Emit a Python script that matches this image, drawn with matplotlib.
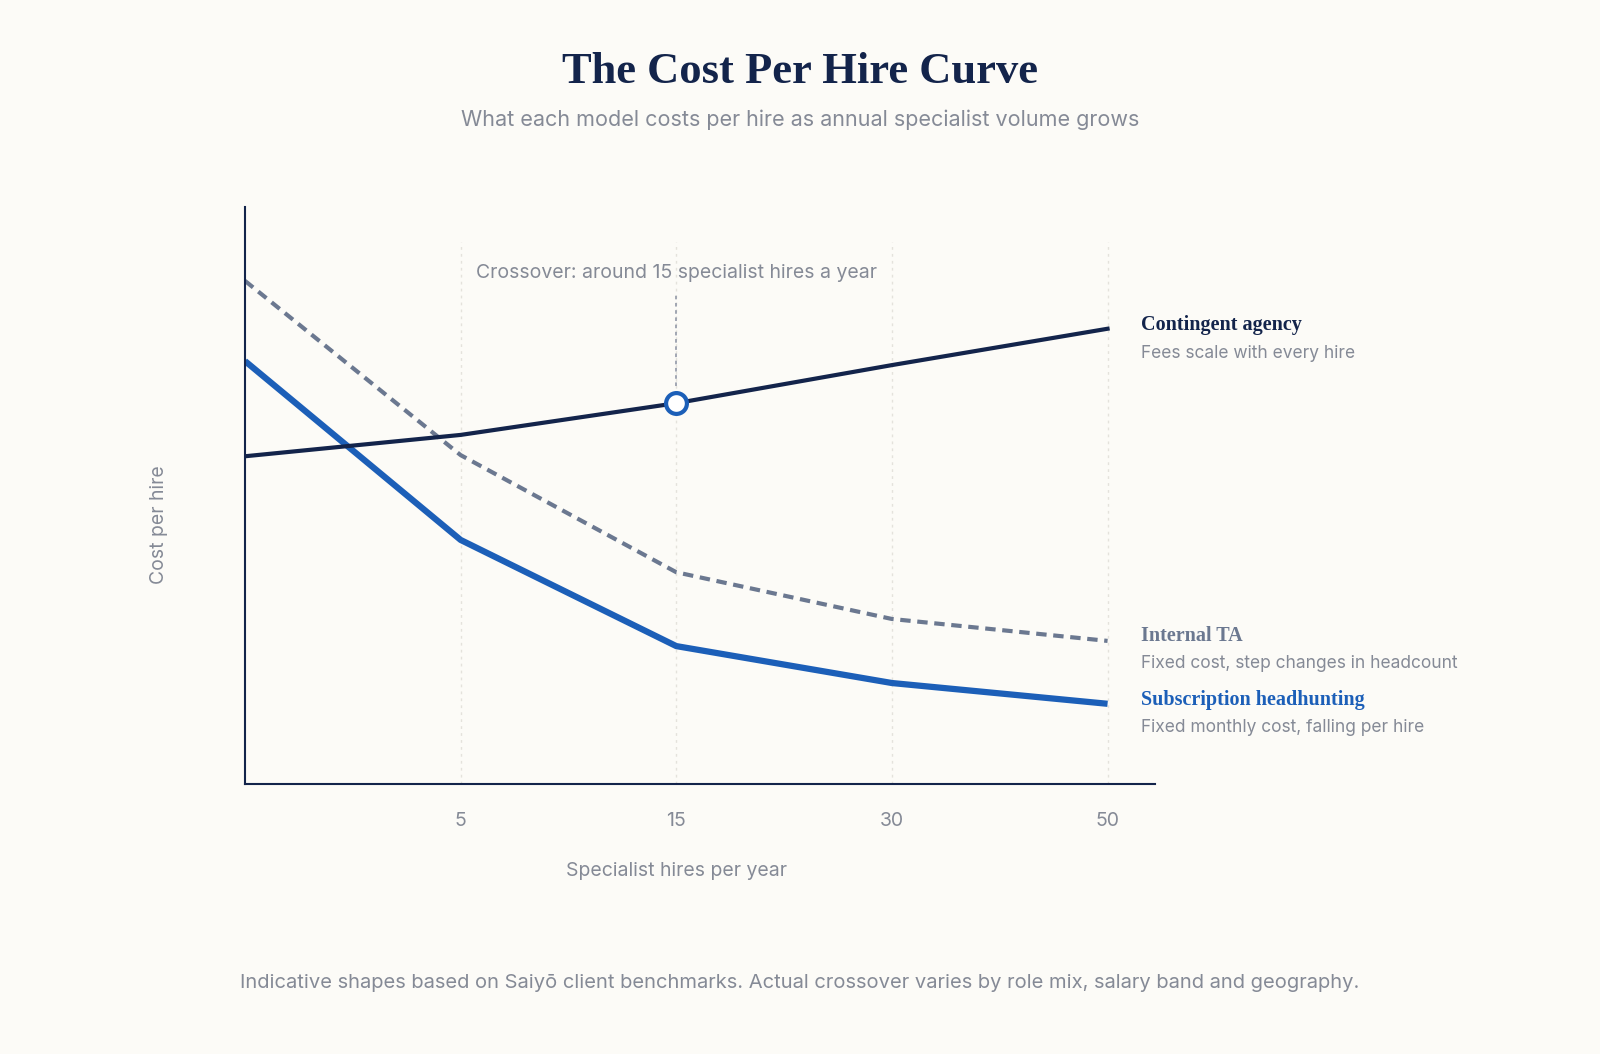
import matplotlib
matplotlib.use("Agg")
import matplotlib.pyplot as plt

x_labels = ["", "5", "15", "30", "50"]
contingent = [56.8, 60.5, 66.0, 72.6, 78.9]
internal_ta = [87.2, 57.0, 36.7, 28.6, 24.8]
subscription = [73.3, 42.3, 23.9, 17.5, 13.9]
crossover_idx = 2

BG = "#fcfbf7"; NAVY = "#13244b"; BLUE = "#1c5fb8"; GREY = "#6b7890"; TXT = "#858a96"
W, H = 1600, 1054
fig = plt.figure(figsize=(16, 10.54), dpi=100, facecolor=BG)
ax = fig.add_axes([245/W, 1-784/H, 910/W, 577/H], facecolor=BG)
xs = list(range(len(x_labels)))
ax.set_xlim(0, 4.22); ax.set_ylim(0, 100)
for i in xs[1:]:
    ax.axvline(i, ymin=0, ymax=0.94, color="#e4e2dc", lw=1, ls=(0, (2, 3)), zorder=0)
ax.plot(xs, subscription, color=BLUE, lw=4.5, solid_capstyle="butt")
ax.plot(xs, internal_ta, color=GREY, lw=3, ls=(0, (2.5, 1.6)))
ax.plot(xs, contingent, color=NAVY, lw=3)
ax.plot([crossover_idx, crossover_idx], [contingent[crossover_idx]+3, 85], color="#9aa0ad", lw=1.3, ls=(0, (2, 2)))
ax.plot(crossover_idx, contingent[crossover_idx], "o", ms=15, mfc="white", mec=BLUE, mew=3, zorder=5)
ax.text(crossover_idx, 88.5, "Crossover: around 15 specialist hires a year", ha="center", va="center", color=TXT, fontsize=14, family="Inter")
for s in ["top", "right"]:
    ax.spines[s].set_visible(False)
for s in ["left", "bottom"]:
    ax.spines[s].set_color(NAVY); ax.spines[s].set_linewidth(1.5)
ax.set_xticks(xs); ax.set_xticklabels(x_labels, fontsize=14, color=TXT, family="Inter")
ax.tick_params(axis="x", length=0, pad=20)
ax.set_yticks([])
ax.set_xlabel("Specialist hires per year", fontsize=14, color=TXT, family="Inter")
ax.xaxis.set_label_coords(2/4.22, -0.135)
ax.set_ylabel("Cost per hire", fontsize=14, color=TXT, family="Inter")
ax.yaxis.set_label_coords(-0.085, 0.45)

def ft(px, py, s, **kw):
    fig.text(px/W, 1-py/H, s, **kw)
ft(800, 72, "The Cost Per Hire Curve", ha="center", va="center", fontsize=32, fontweight="bold", color=NAVY, family="Liberation Serif")
ft(800, 120, "What each model costs per hire as annual specialist volume grows", ha="center", va="center", fontsize=15.5, color=TXT, family="Inter")
labels = [(325, "Contingent agency", NAVY, "Fees scale with every hire"),
          (636, "Internal TA", GREY, "Fixed cost, step changes in headcount"),
          (700, "Subscription headhunting", BLUE, "Fixed monthly cost, falling per hire")]
for py, t, c, sub in labels:
    ft(1141, py, t, ha="left", va="center", fontsize=14.5, fontweight="bold", color=c, family="Liberation Serif")
    ft(1141, py+28, sub, ha="left", va="center", fontsize=12.5, color=TXT, family="Inter")
ft(800, 983, "Indicative shapes based on Saiyō client benchmarks. Actual crossover varies by role mix, salary band and geography.",
   ha="center", va="center", fontsize=14.5, color=TXT, family="Inter")
fig.savefig("out.png", dpi=100, facecolor=BG)
